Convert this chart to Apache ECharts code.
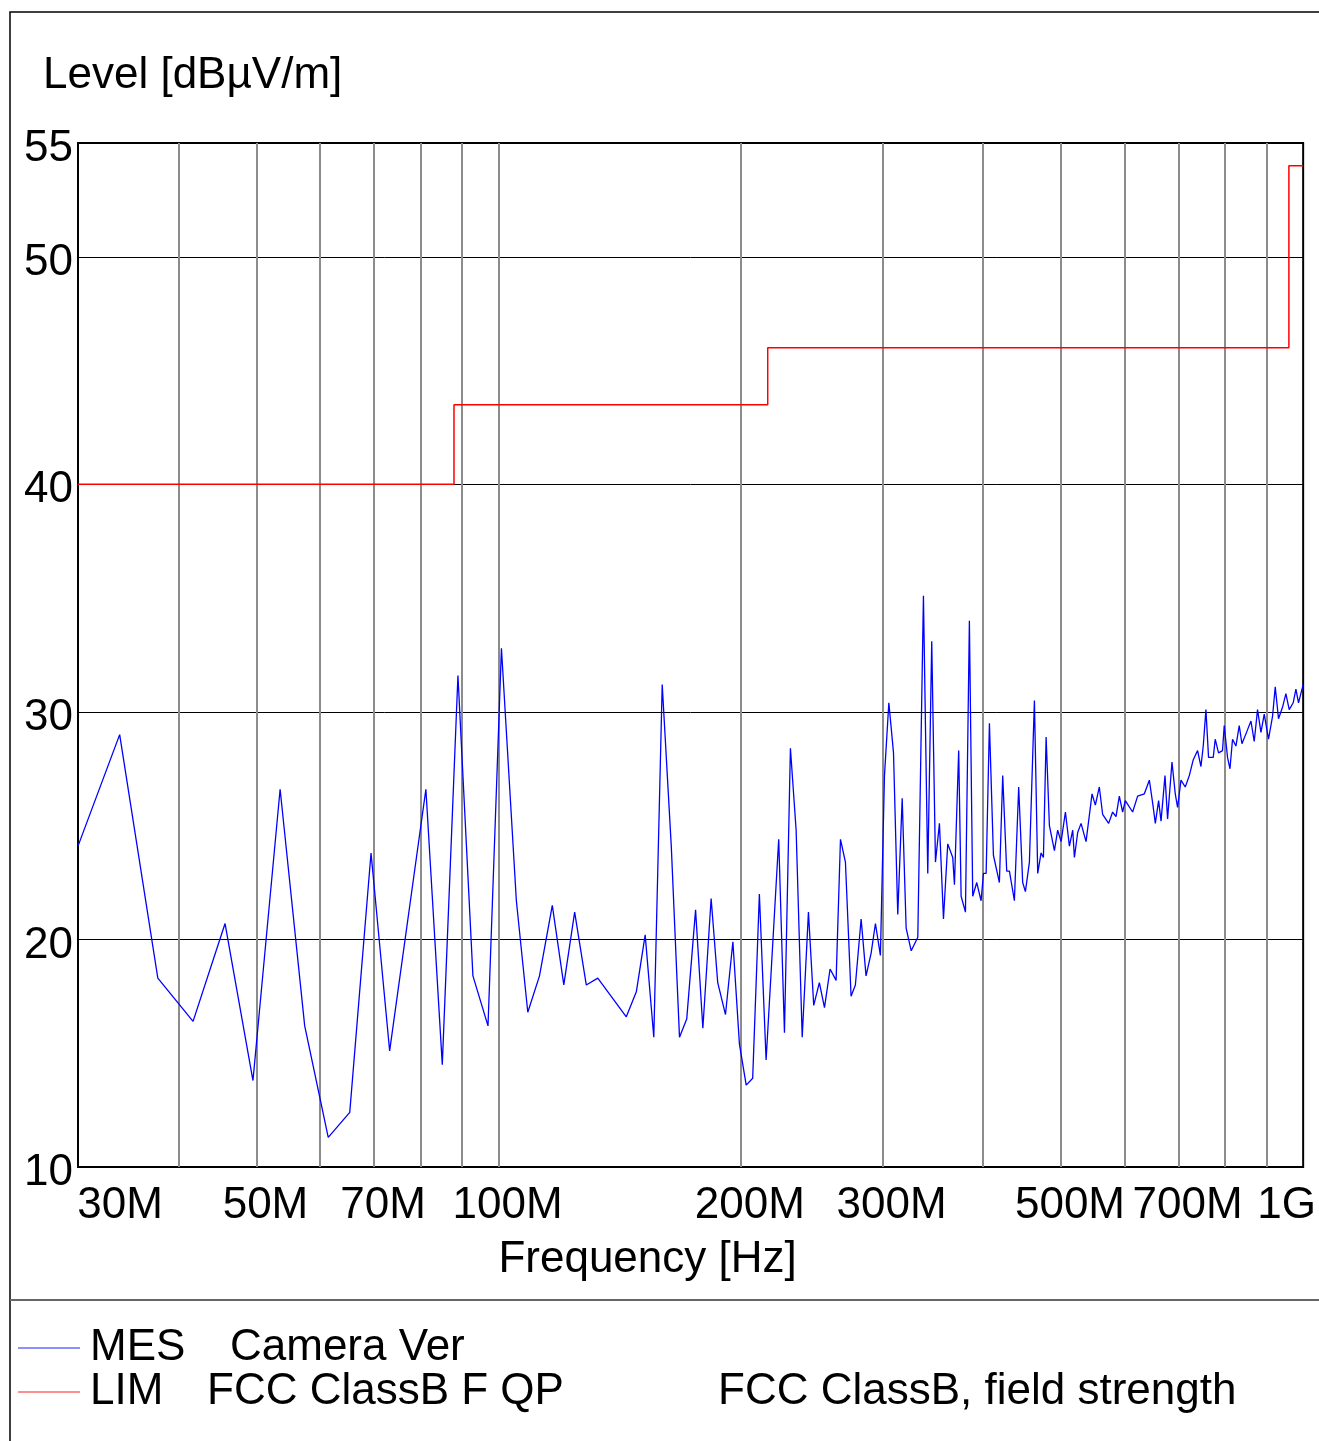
<!DOCTYPE html>
<html>
<head>
<meta charset="utf-8">
<title>Level vs Frequency</title>
<script src="https://cdn.jsdelivr.net/npm/echarts@6/dist/echarts.min.js"></script>
<style>
  html, body { margin: 0; padding: 0; background: #fff; }
  #chart { width: 1319px; height: 1441px; }
</style>
</head>
<body>
<div id="chart"></div>
<script>
// measured trace (MES), frequency in MHz
const freqMHz = [
  30, 33.8, 37.7, 41.7, 45.7, 49.5, 53.5, 57.4, 61.4, 65.3,
  69.4, 73.2, 81.2, 85.1, 89.0, 92.9, 97.0, 100.8, 105.2, 108.7,
  112.4, 116.6, 120.5, 124.3, 128.5, 132.8, 144.1, 148.3, 152.1, 155.9,
  159.7, 163.9, 167.8, 171.3, 175.7, 179.4, 183.7, 187.2, 191.4, 195.5,
  199.2, 203.1, 206.9, 210.9, 215.0, 222.9, 226.6, 230.5, 234.3, 238.4,
  242.7, 246.4, 250.4, 254.1, 258.2, 262.7, 266.0, 269.8, 274.2, 277.6,
  282.2, 286.2, 290.4, 294.0, 298.2, 301.7, 305.5, 309.6, 313.4, 317.4,
  321.0, 325.7, 331.9, 337.3, 341.5, 345.4, 349.1, 353.1, 357.2, 361.6,
  366.8, 368.6, 373.1, 375.7, 380.4, 384.7, 388.4, 392.9, 397.8, 400.5,
  403.6, 407.4, 412.1, 419.2, 423.2, 428.1, 431.4, 437.6, 443.0, 448.1,
  451.6, 456.8, 463.4, 467.8, 472.3, 475.5, 479.2, 483.7, 490.7, 495.3,
  500.2, 506.4, 512.2, 517.1, 519.6, 524.5, 529.6, 537.2, 546.5, 551.7,
  558.0, 563.3, 573.1, 579.7, 585.3, 590.9, 596.5, 601.1, 613.8, 622.7,
  634.7, 643.9, 650.0, 655.0, 661.2, 665.8, 673.4, 678.4, 687.0, 693.5,
  698.1, 704.9, 713.6, 721.9, 730.2, 739.2, 746.4, 751.3, 757.1, 762.8,
  773.1, 777.5, 784.9, 793.9, 797.8, 805.4, 811.0, 817.0, 825.0, 832.8,
  839.3, 850.4, 861.2, 869.3, 877.6, 886.2, 894.6, 905.6, 916.1, 923.2,
  931.9, 942.6, 951.8, 960.9, 971.9, 979.5, 986.8, 1000
];
const levelMES = [
  24.1, 29.0, 18.3, 16.4, 20.7, 13.8, 26.6, 16.2, 11.3, 12.4,
  23.8, 15.1, 26.6, 14.5, 31.6, 18.4, 16.2, 32.8, 21.7, 16.8,
  18.4, 21.5, 18.0, 21.2, 18.0, 18.3, 16.6, 17.7, 20.2, 15.7,
  31.2, 24.1, 15.7, 16.5, 21.3, 16.1, 21.8, 18.1, 16.7, 19.9,
  15.4, 13.6, 13.9, 22.0, 14.7, 24.4, 15.9, 28.4, 24.8, 15.7,
  21.2, 17.1, 18.1, 17.0, 18.7, 18.2, 24.4, 23.4, 17.5, 18.0,
  20.9, 18.4, 19.4, 20.7, 19.3, 27.2, 30.4, 28.2, 21.1, 26.2,
  20.5, 19.5, 20.1, 35.1, 22.9, 33.1, 23.4, 25.1, 20.9, 24.2,
  23.6, 22.4, 28.3, 21.9, 21.2, 34.0, 21.9, 22.5, 21.7, 22.9,
  22.9, 29.5, 23.7, 22.5, 27.2, 23.0, 23.0, 21.7, 26.7, 22.5,
  22.1, 23.4, 30.5, 22.9, 23.8, 23.6, 28.9, 25.0, 23.9, 24.8,
  24.3, 25.6, 24.1, 24.8, 23.6, 24.7, 25.1, 24.3, 26.4, 25.9,
  26.7, 25.5, 25.1, 25.6, 25.4, 26.3, 25.6, 26.1, 25.6, 26.3,
  26.4, 27.0, 26.0, 25.1, 26.1, 25.2, 27.2, 25.3, 27.8, 26.4,
  25.8, 27.0, 26.7, 27.2, 27.9, 28.3, 27.6, 28.5, 30.1, 28.0,
  28.0, 28.8, 28.2, 28.3, 29.4, 28.0, 27.5, 28.8, 28.5, 29.4,
  28.6, 29.1, 29.6, 28.7, 30.1, 29.1, 29.9, 28.8, 29.8, 31.1,
  29.7, 30.2, 30.8, 30.1, 30.4, 31.0, 30.4, 31.2
];

// limit line (LIM), FCC Class B QP
const limitFreqMHz = [30, 88, 88, 216, 216, 960, 960, 1000];
const limitLevel = [40, 40, 43.5, 43.5, 46, 46, 54, 54];

// axes
const gridFreqMHz = [40, 50, 60, 70, 80, 90, 100, 200, 300, 400, 500, 600, 700, 800, 900];
const xLabelFreqMHz = [30, 50, 70, 100, 200, 300, 500, 700, 1000];
const xLabelText = ['30M', '50M', '70M', '100M', '200M', '300M', '500M', '700M', '1G'];
const yTickValues = [10, 20, 30, 40, 50, 55];

const FONT = 'Liberation Sans, Arial, sans-serif'
const FS = 44

const lg = v => Math.log10(v)

const chart = echarts.init(document.getElementById('chart'))

const option = {
  animation: false,
  backgroundColor: '#fff',
  textStyle: { fontFamily: FONT },
  title: {
    text: 'Level [dBµV/m]',
    left: 38,
    top: 49,
    textStyle: { fontSize: FS, fontWeight: 'normal', color: '#000', fontFamily: FONT }
  },
  grid: {
    left: 78,
    right: 15,
    top: 143,
    bottom: 274,
    show: true,
    borderColor: '#000',
    borderWidth: 2,
    backgroundColor: '#fff'
  },
  xAxis: {
    type: 'value',
    min: lg(30),
    max: lg(1000),
    name: 'Frequency [Hz]',
    nameLocation: 'middle',
    nameGap: 71,
    nameTextStyle: { fontSize: FS, color: '#000', fontFamily: FONT, padding: [0, 86, 0, 0] },
    axisLine: { show: false },
    axisTick: { show: false, customValues: gridFreqMHz.map(lg) },
    splitLine: { show: true, lineStyle: { color: '#8c8c8c', width: 2 } },
    axisLabel: {
      customValues: xLabelFreqMHz.map(lg),
      margin: 17,
      color: '#000',
      fontSize: FS,
      fontFamily: FONT,
      formatter: function (val) {
        const f = Math.round(Math.pow(10, val))
        const i = xLabelFreqMHz.indexOf(f)
        const txt = i >= 0 ? xLabelText[i] : ''
        if (f === 30) return '{f|' + txt + '}'
        if (f === 1000) return '{l|' + txt + '}'
        return '{n|' + txt + '}'
      },
      rich: {
        f: { fontSize: FS, fontFamily: FONT, color: '#000', padding: [0, 0, 0, 84] },
        l: { fontSize: FS, fontFamily: FONT, color: '#000', padding: [0, 33, 0, 0] },
        n: { fontSize: FS, fontFamily: FONT, color: '#000', padding: [0, 0, 0, 18] }
      }
    }
  },
  yAxis: {
    type: 'value',
    min: 10,
    max: 55,
    interval: 10,
    axisLine: { show: false },
    axisTick: { show: false },
    splitLine: { show: true, lineStyle: { color: '#000', width: 1 } },
    axisLabel: {
      customValues: yTickValues,
      margin: 5,
      color: '#000',
      fontSize: FS,
      fontFamily: FONT,
      formatter: '{v|{value}}',
      rich: {
        v: { fontSize: FS, fontFamily: FONT, color: '#000', padding: [12, 0, 0, 0] }
      }
    }
  },
  legend: {
    orient: 'vertical',
    left: 18,
    top: 1326,
    padding: 0,
    itemWidth: 62,
    itemHeight: 2,
    itemGap: 0,
    icon: 'rect',
    selectedMode: false,
    data: [
      { name: 'MES', itemStyle: { color: '#8f8fff' } },
      { name: 'LIM', itemStyle: { color: '#ff8f8f' } }
    ],
    textStyle: {
      fontSize: FS,
      lineHeight: 43,
      color: '#000',
      fontFamily: FONT,
      rich: {
        m: { fontSize: FS, fontFamily: FONT, color: '#000', width: 140, padding: [0, 0, 0, 5] },
        k: { fontSize: FS, fontFamily: FONT, color: '#000', width: 117, padding: [0, 0, 0, 5] },
        q: { fontSize: FS, fontFamily: FONT, color: '#000', width: 511 },
        t: { fontSize: FS, fontFamily: FONT, color: '#000' }
      }
    },
    formatter: function (name) {
      if (name === 'MES') return '{m|MES}{t|Camera Ver}'
      return '{k|LIM}{q|FCC ClassB F QP}{t|FCC ClassB, field strength}'
    }
  },
  graphic: [
    {
      type: 'polyline',
      silent: true,
      shape: { points: [[10, 1441], [10, 12], [1319, 12]] },
      style: { stroke: '#000', lineWidth: 1.5, fill: null }
    },
    {
      type: 'line',
      silent: true,
      shape: { x1: 10, y1: 1300, x2: 1319, y2: 1300 },
      style: { stroke: '#666', lineWidth: 2 }
    }
  ],
  series: [
    {
      name: 'MES',
      type: 'line',
      symbol: 'none',
      color: '#0000ff',
      lineStyle: { color: '#0000ff', width: 1.3 },
      data: freqMHz.map((f, i) => [lg(f), levelMES[i]]),
      z: 3
    },
    {
      name: 'LIM',
      type: 'line',
      symbol: 'none',
      color: '#ff0000',
      lineStyle: { color: '#ff0000', width: 1.5 },
      data: limitFreqMHz.map((f, i) => [lg(f), limitLevel[i]]),
      z: 4
    }
  ]
}

chart.setOption(option)
</script>
</body>
</html>
